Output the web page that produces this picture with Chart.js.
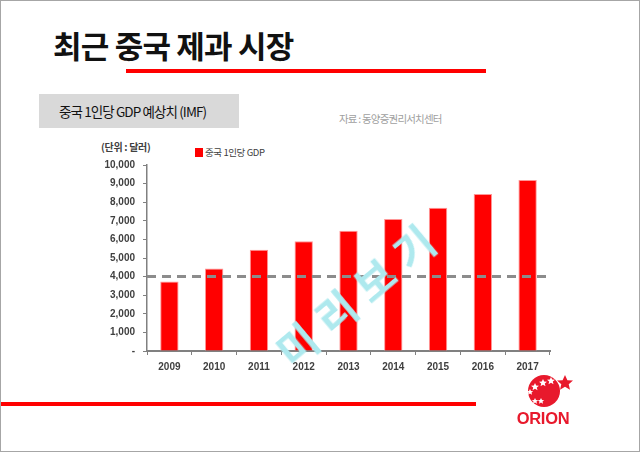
<!DOCTYPE html>
<html>
<head>
<meta charset="utf-8">
<script src="https://cdn.jsdelivr.net/npm/chart.js@4"></script>
<style>
  html, body { margin: 0; padding: 0; background: #fff; }
  #page { position: relative; width: 640px; height: 452px; box-sizing: border-box; border: 1px solid #a6a6a6; overflow: hidden; font-family: "Noto Sans CJK KR", sans-serif; }
  .abs { position: absolute; white-space: nowrap; }
  #title { left: 52px; top: 24px; font-size: 31px; font-weight: bold; color: #111; line-height: 40px; letter-spacing: -0.8px; }
  #titleLine { left: 125px; top: 68px; width: 360px; height: 4px; background: #ff0000; }
  #subBox { left: 38px; top: 93px; width: 200px; height: 34px; background: #d9d9d9; }
  #subText { left: 58px; top: 101px; font-size: 13.5px; line-height: 18px; color: #111; letter-spacing: -0.9px; }
  #source { left: 338px; top: 110px; font-size: 10.5px; line-height: 16px; color: #a0a0a0; letter-spacing: -0.8px; }
  #unit { left: 100px; top: 139px; font-size: 10px; line-height: 14px; color: #404040; letter-spacing: -0.3px; font-weight: bold; }
  #legBox { left: 194px; top: 147px; width: 8px; height: 9px; background: #ff0000; }
  #legText { left: 204px; top: 145px; font-size: 9.5px; line-height: 13px; color: #404040; letter-spacing: -0.4px; }
  #chartWrap { left: 80px; top: 140px; width: 480px; height: 240px; }
  #bottomLine { left: 0; top: 401px; width: 475px; height: 4px; background: #ff0000; }
  #logo { left: 505px; top: 368px; }
  #mark { left: 358px; top: 290px; font-size: 42px; color: #aee9ee; letter-spacing: 12px; transform: translate(-50%, -50%) rotate(-40deg); z-index: 5; line-height: 50px; font-weight: bold; }
</style>
</head>
<body>
<div id="page">
  <div id="title" class="abs">최근 중국 제과 시장</div>
  <div id="titleLine" class="abs"></div>
  <div id="subBox" class="abs"></div>
  <div id="subText" class="abs">중국 1인당 GDP 예상치 (IMF)</div>
  <div id="source" class="abs">자료 : 동양증권리서치센터</div>
  <div id="unit" class="abs">(단위 : 달러)</div>
  <div id="legBox" class="abs"></div>
  <div id="legText" class="abs">중국 1인당 GDP</div>
  <div id="chartWrap" class="abs"><canvas id="chart-1" width="480" height="240"></canvas></div>
  <div id="bottomLine" class="abs"></div>
  <svg id="logo" class="abs" width="70" height="60" viewBox="0 0 70 60">
    <circle cx="38" cy="22" r="16" fill="#e8192c"/>
    <polygon fill="#e8192c" points="59,6 61.4,11.2 67,11.6 62.7,15.2 64,20.7 59,17.7 54,20.7 55.3,15.2 51,11.6 56.6,11.2"/>
    <g fill="#fff">
      <polygon points="29,14 30.2,16.6 33,16.8 30.8,18.6 31.5,21.3 29,19.8 26.5,21.3 27.2,18.6 25,16.8 27.8,16.6"/>
      <polygon points="37,10 38.2,12.6 41,12.8 38.8,14.6 39.5,17.3 37,15.8 34.5,17.3 35.2,14.6 33,12.8 35.8,12.6"/>
      <polygon points="45,8 46.2,10.6 49,10.8 46.8,12.6 47.5,15.3 45,13.8 42.5,15.3 43.2,12.6 41,10.8 43.8,10.6"/>
      <polygon points="24,20 25,22 27.2,22.2 25.5,23.6 26,25.8 24,24.6 22,25.8 22.5,23.6 20.8,22.2 23,22"/>
      <polygon points="29,29 30,31 32.2,31.2 30.5,32.6 31,34.8 29,33.6 27,34.8 27.5,32.6 25.8,31.2 28,31"/>
      <polygon points="35,29 36,31 38.2,31.2 36.5,32.6 37,34.8 35,33.6 33,34.8 33.5,32.6 31.8,31.2 34,31"/>
    </g>
    <text x="37" y="55" text-anchor="middle" font-family="Liberation Sans, sans-serif" font-weight="bold" font-size="16.5" fill="#e8192c" letter-spacing="-0.3">ORION</text>
  </svg>
  <div id="mark" class="abs">미리보기</div>
</div>
<script>
const years = ["2009", "2010", "2011", "2012", "2013", "2014", "2015", "2016", "2017"];
const gdpPerCapita = [3740, 4430, 5450, 5900, 6470, 7100, 7700, 8440, 9190];
const yMax = 10000;
const yStep = 1000;
const refLevel = 4000;

// grey dashed reference line across the plot
const refLine = {
  id: "refLine",
  afterDatasetsDraw(chart) {
    const c = chart.ctx;
    const area = chart.chartArea;
    const y = chart.scales.y.getPixelForValue(refLevel);
    c.save();
    c.strokeStyle = "#8c8c8c";
    c.lineWidth = 3;
    c.setLineDash([9, 6]);
    c.beginPath();
    c.moveTo(area.left, y);
    c.lineTo(area.right - 2, y);
    c.stroke();
    c.restore();
  },
};

const ctx1 = document.getElementById("chart-1").getContext("2d");
const myChart = new Chart(ctx1, {
  type: "bar",
  data: {
    labels: years,
    datasets: [
      {
        label: "중국 1인당 GDP",
        data: gdpPerCapita,
        backgroundColor: "#ff0000",
        borderColor: "rgba(255, 150, 150, 1)",
        borderWidth: { top: 1, left: 1, right: 1, bottom: 0 },
        categoryPercentage: 1,
        barPercentage: 0.41,
      },
    ],
  },
  options: {
    responsive: false,
    animation: false,
    layout: { padding: { top: 24, right: 11, left: 0, bottom: 0 } },
    plugins: {
      legend: { display: false },
      tooltip: { enabled: false },
    },
    scales: {
      x: {
        grid: { display: true, drawOnChartArea: false, tickLength: 4, color: "#808080", offset: true },
        border: { color: "#808080", width: 2 },
        ticks: {
          color: "#404040",
          padding: 6,
          maxRotation: 0,
          font: { family: "Liberation Sans", size: 10, weight: "bold" },
        },
        afterFit(scale) { scale.height = 30; },
      },
      y: {
        min: 0,
        max: yMax,
        grid: { display: true, drawOnChartArea: false, tickLength: 4, color: "#808080" },
        border: { color: "#808080", width: 1.5 },
        ticks: {
          stepSize: yStep,
          color: "#404040",
          padding: 8,
          font: { family: "Liberation Sans", size: 10, weight: "bold" },
          callback: (v) => (v === 0 ? "-" : v.toLocaleString("en-US")),
        },
        afterFit(scale) { scale.width = 66; },
      },
    },
  },
  plugins: [refLine],
});
</script>
</body>
</html>
